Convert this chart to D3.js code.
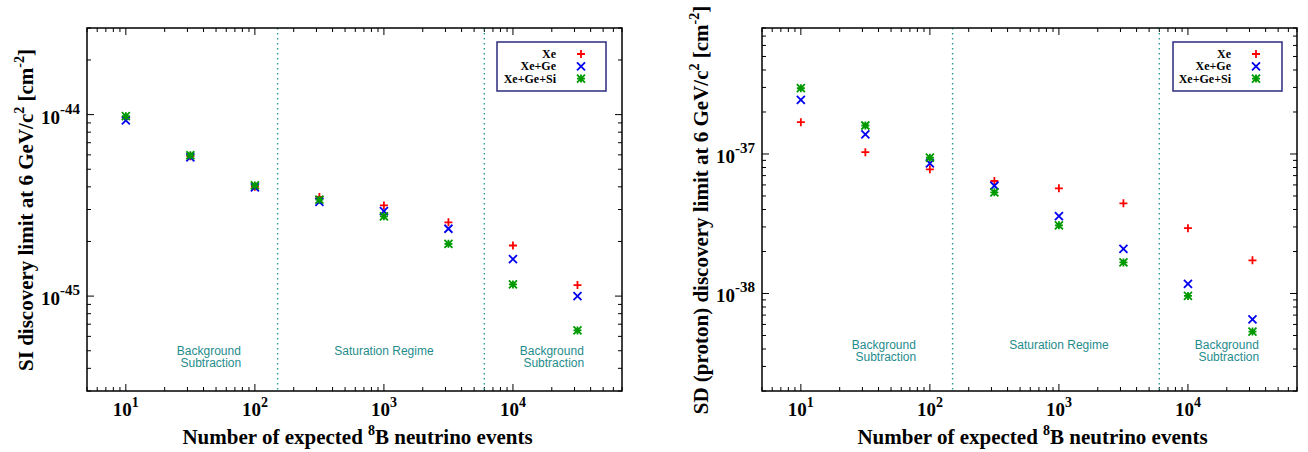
<!DOCTYPE html>
<html><head><meta charset="utf-8">
<script src="https://cdn.jsdelivr.net/npm/d3@7"></script>
<style>body{margin:0;background:#fff}</style>
</head><body>
<svg id="c" width="1308" height="452"></svg>
<script>
const events = [10, 31.62, 100, 316.2, 1000, 3162, 10000, 31623];
const seriesNames = ["Xe", "Xe+Ge", "Xe+Ge+Si"];
const siXe      = [9.6e-45, 5.9e-45, 4.0e-45, 3.52e-45, 3.16e-45, 2.55e-45, 1.9e-45, 1.15e-45];
const siXeGe    = [9.3e-45, 5.82e-45, 3.97e-45, 3.3e-45, 2.94e-45, 2.35e-45, 1.6e-45, 1.0e-45];
const siXeGeSi  = [9.8e-45, 5.97e-45, 4.07e-45, 3.4e-45, 2.75e-45, 1.94e-45, 1.16e-45, 6.47e-46];
const sdXe      = [1.69e-37, 1.03e-37, 7.76e-38, 6.4e-38, 5.67e-38, 4.43e-38, 2.94e-38, 1.73e-38];
const sdXeGe    = [2.44e-37, 1.38e-37, 8.57e-38, 5.92e-38, 3.59e-38, 2.09e-38, 1.17e-38, 6.53e-39];
const sdXeGeSi  = [2.96e-37, 1.6e-37, 9.4e-38, 5.31e-38, 3.08e-38, 1.67e-38, 9.6e-39, 5.33e-39];
const regimeBounds = [150, 6000];
const regimeLabels = [["Background","Subtraction"],["Saturation Regime"],["Background","Subtraction"]];
const regimeLabelX = [44, 1000, 20000];
const xTickExps = [1, 2, 3, 4];
const siTickExps = [-44, -45];
const sdTickExps = [-37, -38];

const colors = ["#ff0000", "#0000ee", "#009900"];
const svg = d3.select("#c");
const serif = "'Liberation Serif','Times New Roman',serif";
const sans = "'Liberation Sans',Arial,sans-serif";

function marker(g, type, x, y, color) {
  const s = 4;
  const p = g.append("path").attr("stroke", color).attr("stroke-width", 1.8).attr("fill", "none");
  let d = "";
  if (type === 0) d = `M${x-s},${y}H${x+s}M${x},${y-s}V${y+s}`;
  else if (type === 1) d = `M${x-s},${y-s}L${x+s},${y+s}M${x-s},${y+s}L${x+s},${y-s}`;
  else d = `M${x-s},${y}H${x+s}M${x},${y-s}V${y+s}M${x-s},${y-s}L${x+s},${y+s}M${x-s},${y+s}L${x+s},${y-s}`;
  p.attr("d", d);
}

function panel(cfg) {
  const {left, top, width, height, yDomain, yExps, series, yLabel, legendBox, labelRows} = cfg;
  const g = svg.append("g");
  const x = d3.scaleLog().domain([5, 70000]).range([left, left + width]);
  const y = d3.scaleLog().domain(yDomain).range([top + height, top]);

  const xt = [];
  for (let e = 0; e <= 4; e++) for (let m = 1; m <= 9; m++) { const v = m * Math.pow(10, e); if (v >= 5 && v <= 70000) xt.push({v, major: m === 1}); }
  xt.forEach(t => {
    const px = x(t.v), L = t.major ? 7 : 4;
    g.append("line").attr("x1", px).attr("x2", px).attr("y1", top + height).attr("y2", top + height - L).attr("stroke", "#000").attr("stroke-width", 1);
    g.append("line").attr("x1", px).attr("x2", px).attr("y1", top).attr("y2", top + L).attr("stroke", "#000").attr("stroke-width", 1);
  });
  const yt = [];
  const e0 = Math.floor(Math.log10(yDomain[0])), e1 = Math.ceil(Math.log10(yDomain[1]));
  for (let e = e0; e <= e1; e++) for (let m = 1; m <= 9; m++) { const v = m * Math.pow(10, e); if (v >= yDomain[0]*0.999 && v <= yDomain[1]*1.001) yt.push({v, major: m === 1}); }
  yt.forEach(t => {
    const py = y(t.v), L = t.major ? 7 : 4;
    g.append("line").attr("y1", py).attr("y2", py).attr("x1", left).attr("x2", left + L).attr("stroke", "#000");
    g.append("line").attr("y1", py).attr("y2", py).attr("x1", left + width).attr("x2", left + width - L).attr("stroke", "#000");
  });

  regimeBounds.forEach(b => {
    g.append("line").attr("x1", x(b)).attr("x2", x(b)).attr("y1", top).attr("y2", top + height)
      .attr("stroke", "#2a9a9a").attr("stroke-width", 1.4).attr("stroke-dasharray", "1.5,3.5");
  });
  regimeLabels.forEach((lines, i) => {
    const t = g.append("text").attr("font-family", sans).attr("font-size", 12).attr("fill", "#1f8c8c").attr("text-anchor", "middle");
    lines.forEach((ln, j) => t.append("tspan").attr("x", x(regimeLabelX[i]) + (j === 1 ? 2 : 0)).attr("y", labelRows[0] + j * 12).text(ln));
  });

  g.append("rect").attr("x", left).attr("y", top).attr("width", width).attr("height", height)
    .attr("fill", "none").attr("stroke", "#000").attr("stroke-width", 1.5);

  xTickExps.forEach(e => {
    const t = g.append("text").attr("x", x(Math.pow(10, e))).attr("y", 416).attr("font-family", serif).attr("font-weight", "bold").attr("font-size", 19).attr("text-anchor", "middle");
    t.append("tspan").text("10");
    t.append("tspan").attr("dy", -9).attr("font-size", 14).text(e);
  });
  yExps.forEach(e => {
    const t = g.append("text").attr("x", left - 7).attr("y", y(Math.pow(10, e)) + 9).attr("font-family", serif).attr("font-weight", "bold").attr("font-size", 19).attr("text-anchor", "end");
    t.append("tspan").text("10");
    t.append("tspan").attr("dy", -10).attr("font-size", 15).text(e);
  });

  const xl = g.append("text").attr("x", left + width / 2 + 3).attr("y", 444).attr("font-family", serif).attr("font-weight", "bold").attr("font-size", 21).attr("text-anchor", "middle");
  xl.append("tspan").text("Number of expected ");
  xl.append("tspan").attr("dy", -9).attr("font-size", 14).text("8");
  xl.append("tspan").attr("dy", 9).text("B neutrino events");

  const yl = g.append("text").attr("transform", `translate(${cfg.yLabelX},${cfg.yLabelY}) rotate(-90)`).attr("font-family", serif).attr("font-weight", "bold").attr("font-size", 21).attr("text-anchor", "middle");
  yl.append("tspan").text(yLabel + " at 6 GeV/c");
  yl.append("tspan").attr("dy", -9).attr("font-size", 14).text("2");
  yl.append("tspan").attr("dy", 9).text(" [cm");
  yl.append("tspan").attr("dy", -9).attr("font-size", 14).text("-2");
  yl.append("tspan").attr("dy", 9).text("]");

  series.forEach((vals, si) => {
    vals.forEach((v, i) => marker(g, si, x(events[i]), y(v), colors[si]));
  });

  const [lx, ly, lw, lh, tx, mx] = legendBox;
  g.append("rect").attr("x", lx).attr("y", ly).attr("width", lw).attr("height", lh).attr("fill", "#fff").attr("stroke", "#2b2b7f").attr("stroke-width", 1.5);
  seriesNames.forEach((n, i) => {
    const ry = ly + 12 + i * 12.3;
    g.append("text").attr("x", tx).attr("y", ry + 4).attr("font-family", serif).attr("font-weight", "bold").attr("font-size", 12).attr("text-anchor", "end").text(n);
    marker(g, i, mx, ry, colors[i]);
  });
}

panel({left: 87, top: 28, width: 535, height: 363, yDomain: [3e-46, 3e-44], yExps: siTickExps,
  series: [siXe, siXeGe, siXeGeSi], yLabel: "SI discovery limit", yLabelX: 33, yLabelY: 210,
  legendBox: [497, 42, 109, 49, 556, 581], labelRows: [355]});
panel({left: 762, top: 28, width: 535, height: 363, yDomain: [2e-39, 8e-37], yExps: sdTickExps,
  series: [sdXe, sdXeGe, sdXeGeSi], yLabel: "SD (proton) discovery limit", yLabelX: 708, yLabelY: 210,
  legendBox: [1173, 42, 109, 49, 1231, 1256], labelRows: [349]});
</script>
</body></html>
